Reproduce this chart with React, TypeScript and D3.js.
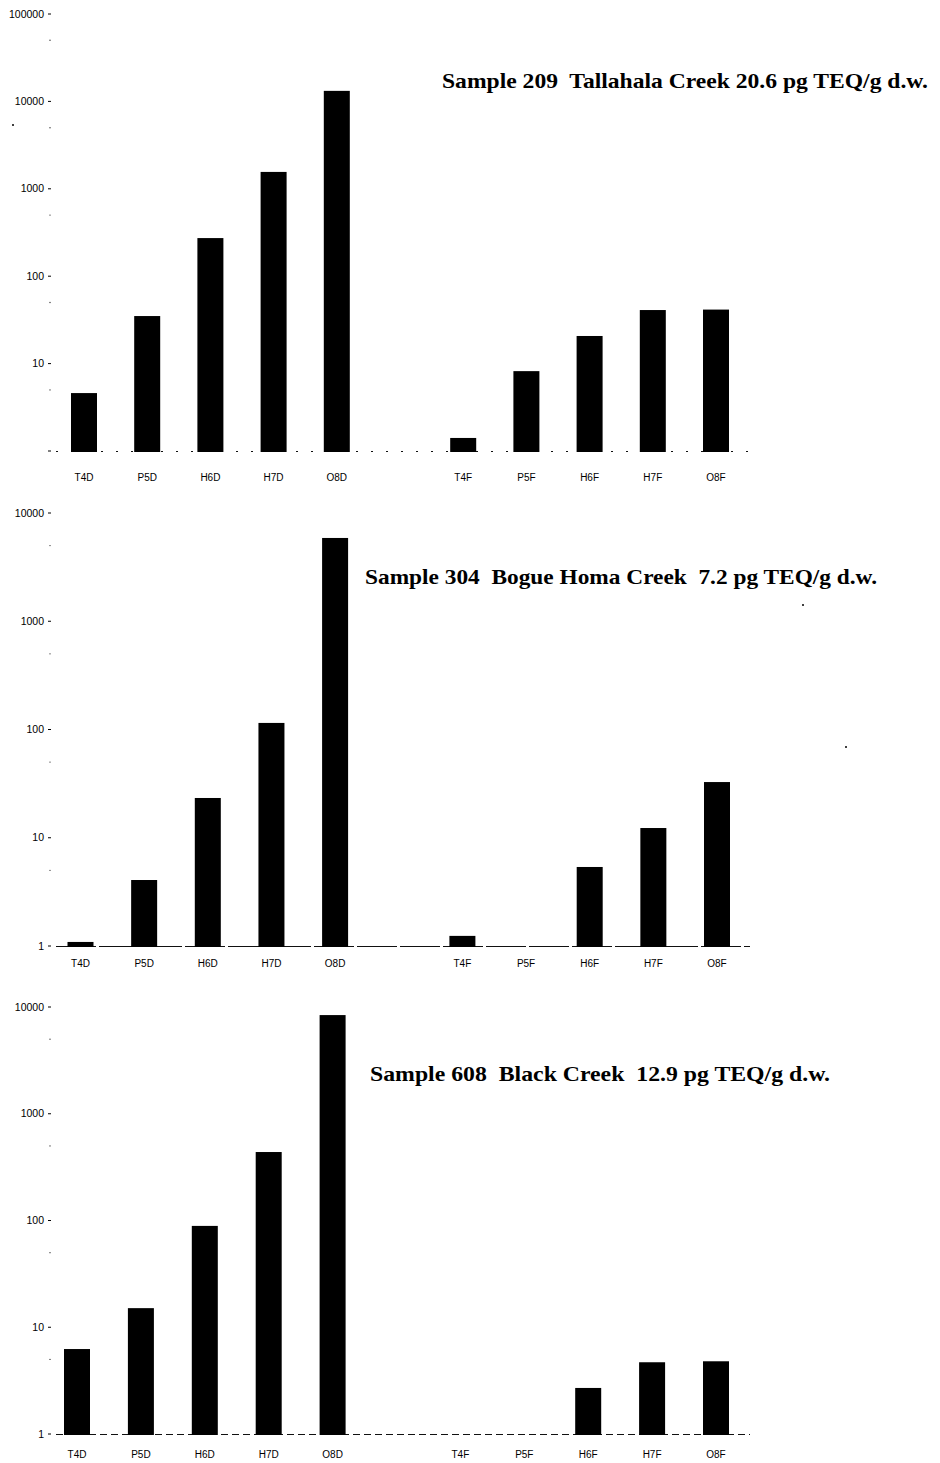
import { useRef, useEffect } from 'react';
import * as d3 from 'd3';

// congener slots, with one empty slot between dioxins and furans
const slots = ['T4D', 'P5D', 'H6D', 'H7D', 'O8D', 'gap', 'T4F', 'P5F', 'H6F', 'H7F', 'O8F'];
const dioxins = ['T4D', 'P5D', 'H6D', 'H7D', 'O8D'];
const furans = ['T4F', 'P5F', 'H6F', 'H7F', 'O8F'];

// sample 209
const s209Dioxins = [4.6, 35, 273, 1560, 13200];
const s209Furans = [1.41, 8.2, 20.7, 41, 41.5];
// sample 304
const s304Dioxins = [1.09, 4.07, 23.3, 115, 5880];
const s304Furans = [1.24, 1, 5.37, 12.3, 32.7];
// sample 608
const s608Dioxins = [6.25, 15.1, 89, 438, 8400];
const s608Furans = [1, 1, 2.7, 4.7, 4.8];

const ticks209 = [1, 10, 100, 1000, 10000, 100000];
const ticks10k = [1, 10, 100, 1000, 10000];

const titles = [
  'Sample 209  Tallahala Creek 20.6 pg TEQ/g d.w.',
  'Sample 304  Bogue Homa Creek  7.2 pg TEQ/g d.w.',
  'Sample 608  Black Creek  12.9 pg TEQ/g d.w.',
];

const panels = [
  { title: titles[0], d: s209Dioxins, f: s209Furans, ticks: ticks209, top: 14, base: 451, x0: 84, x1: 716,
    tx: 442, ty: 88, tw: 486, dash: '2,13', showOne: false, labY: 30 },
  { title: titles[1], d: s304Dioxins, f: s304Furans, ticks: ticks10k, top: 513, base: 946, x0: 80.5, x1: 717,
    tx: 365, ty: 584, tw: 512, dash: '40,3', showOne: true, labY: 21 },
  { title: titles[2], d: s608Dioxins, f: s608Furans, ticks: ticks10k, top: 1007, base: 1434, x0: 77, x1: 716,
    tx: 370, ty: 1081, tw: 460, dash: '7,4', showOne: true, labY: 24 },
];

export default function App() {
  const svgRef = useRef(null);

  useEffect(() => {
    const svg = d3.select(svgRef.current);
    svg.selectAll('*').remove();
    svg.attr('width', 940).attr('height', 1463);

    svg.append('rect').attr('width', 940).attr('height', 1463).attr('fill', '#fff');

    const barW = 26;

    panels.forEach((p) => {
      const g = svg.append('g');
      const y = d3.scaleLog().domain([1, p.ticks[p.ticks.length - 1]]).range([p.base, p.top]);
      const x = d3.scalePoint().domain(slots).range([p.x0, p.x1]);

      // baseline
      g.append('line')
        .attr('x1', 56).attr('x2', 750)
        .attr('y1', p.base + 0.5).attr('y2', p.base + 0.5)
        .attr('stroke', '#111').attr('stroke-width', 1)
        .attr('stroke-dasharray', p.dash);

      // y ticks
      g.selectAll('.tick')
        .data(p.ticks)
        .join('line')
        .attr('x1', 48).attr('x2', 51)
        .attr('y1', (d) => y(d)).attr('y2', (d) => y(d))
        .attr('stroke', '#000').attr('stroke-width', 1);

      g.selectAll('.minor')
        .data(p.ticks.slice(0, -1).map((t) => t * 5))
        .join('circle')
        .attr('cx', 50).attr('cy', (d) => y(d)).attr('r', 0.7)
        .attr('fill', '#333');

      g.selectAll('.lab')
        .data(p.ticks.filter((t) => p.showOne || t > 1))
        .join('text')
        .attr('x', 44)
        .attr('y', (d) => y(d) + 3.5)
        .attr('text-anchor', 'end')
        .attr('font-family', 'Liberation Sans, Arial, sans-serif')
        .attr('font-size', 10.5)
        .text((d) => d);

      const rows = [
        ...dioxins.map((c, i) => ({ c, v: p.d[i] })),
        ...furans.map((c, i) => ({ c, v: p.f[i] })),
      ];

      g.selectAll('.bar')
        .data(rows.filter((r) => r.v > 1))
        .join('rect')
        .attr('x', (d) => x(d.c) - barW / 2)
        .attr('y', (d) => y(d.v))
        .attr('width', barW)
        .attr('height', (d) => p.base - y(d.v) + 1)
        .attr('fill', '#000');

      g.selectAll('.cat')
        .data(rows)
        .join('text')
        .attr('x', (d) => x(d.c))
        .attr('y', p.base + p.labY)
        .attr('text-anchor', 'middle')
        .attr('font-family', 'Liberation Sans, Arial, sans-serif')
        .attr('font-size', 10)
        .text((d) => d.c);

      g.append('text')
        .attr('x', p.tx)
        .attr('y', p.ty)
        .attr('font-family', 'Liberation Serif, Times New Roman, serif')
        .attr('font-weight', 'bold')
        .attr('font-size', 22)
        .attr('textLength', p.tw)
        .attr('lengthAdjust', 'spacingAndGlyphs')
        .style('white-space', 'pre')
        .text(p.title);
    });

    // scan specks
    [[13, 125], [803, 605], [846, 747]].forEach(([cx, cy]) => {
      svg.append('circle').attr('cx', cx).attr('cy', cy).attr('r', 1).attr('fill', '#000');
    });
  }, []);

  return (
    <div>
      <svg ref={svgRef} style={{ position: 'absolute', left: 0, top: 0 }} />
    </div>
  );
}
